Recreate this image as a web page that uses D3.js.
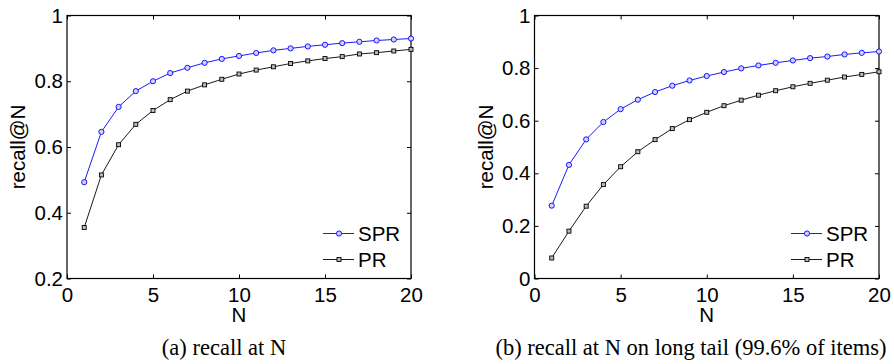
<!DOCTYPE html>
<html>
<head>
<meta charset="utf-8">
<script src="https://cdn.jsdelivr.net/npm/d3@7/dist/d3.min.js"></script>
<style>
  body { margin: 0; background: #fff; }
  svg text { font-family: "Liberation Sans", Arial, sans-serif; }
  svg text.caption { font-family: "Liberation Serif", "Times New Roman", serif; }
</style>
</head>
<body>
<svg width="894" height="364"></svg>
<script>
// N = 1..20
var topN = [1,2,3,4,5,6,7,8,9,10,11,12,13,14,15,16,17,18,19,20];

// (a) recall at N
var sprAll = [0.493,0.646,0.722,0.770,0.800,0.825,0.841,0.856,0.868,0.877,
              0.886,0.894,0.900,0.906,0.911,0.916,0.920,0.924,0.927,0.930];
var prAll  = [0.355,0.515,0.607,0.669,0.711,0.744,0.770,0.789,0.806,0.822,
              0.834,0.844,0.854,0.862,0.869,0.875,0.883,0.887,0.892,0.897];

// (b) recall at N on long tail
var sprTail = [0.277,0.432,0.529,0.595,0.644,0.680,0.709,0.733,0.753,0.770,
               0.785,0.799,0.810,0.820,0.829,0.838,0.844,0.852,0.858,0.863];
var prTail  = [0.078,0.180,0.275,0.357,0.425,0.482,0.528,0.570,0.604,0.632,
               0.657,0.678,0.697,0.714,0.729,0.742,0.754,0.766,0.776,0.786];

var xTicks = [0, 5, 10, 15, 20];
var yTicksA = [0.2, 0.4, 0.6, 0.8, 1];
var yTicksB = [0, 0.2, 0.4, 0.6, 0.8, 1];

var svg = d3.select("svg");
var fs = 20.5;

function drawPanel(p) {
	var x = d3.scaleLinear().domain([0, 20]).range([p.left, p.right]);
	var y = d3.scaleLinear().domain(p.yDomain).range([p.bottom, p.top]);
	var fmt = function(d) { return String(+d.toFixed(1)); };
	var g = svg.append("g");

	// ticks inside on all four sides, labels on bottom and left
	g.append("g")
		.attr("transform", "translate(0," + p.bottom + ")")
		.call(d3.axisBottom(x).tickValues(xTicks).tickFormat(fmt)
			.tickSizeInner(-4).tickSizeOuter(0).tickPadding(9));
	g.append("g")
		.attr("transform", "translate(" + p.left + ",0)")
		.call(d3.axisLeft(y).tickValues(p.yTicks).tickFormat(fmt)
			.tickSizeInner(-4).tickSizeOuter(0).tickPadding(4));
	g.append("g")
		.attr("transform", "translate(0," + p.top + ")")
		.call(d3.axisTop(x).tickValues(xTicks).tickFormat("")
			.tickSizeInner(-4).tickSizeOuter(0));
	g.append("g")
		.attr("transform", "translate(" + p.right + ",0)")
		.call(d3.axisRight(y).tickValues(p.yTicks).tickFormat("")
			.tickSizeInner(-4).tickSizeOuter(0));

	g.selectAll(".domain").remove();
	g.selectAll(".tick line").attr("stroke", "#000");
	g.selectAll(".tick text")
		.attr("font-size", fs)
		.attr("font-family", "Liberation Sans, Arial, sans-serif")
		.attr("fill", "#000");

	g.append("rect")
		.attr("x", p.left).attr("y", p.top)
		.attr("width", p.right - p.left).attr("height", p.bottom - p.top)
		.attr("fill", "none").attr("stroke", "#000").attr("stroke-width", 1.2);

	var line = d3.line()
		.x(function(d, i) { return x(topN[i]); })
		.y(function(d) { return y(d); });

	// PR (black squares)
	g.append("path").datum(p.pr)
		.attr("d", line).attr("fill", "none").attr("stroke", "#000").attr("stroke-width", 0.9);
	g.selectAll(".sq").data(p.pr).enter().append("rect")
		.attr("class", "sq")
		.attr("x", function(d, i) { return x(topN[i]) - 2; })
		.attr("y", function(d) { return y(d) - 2; })
		.attr("width", 4).attr("height", 4)
		.attr("fill", "#bbb").attr("stroke", "#000").attr("stroke-width", 0.9);

	// SPR (blue circles)
	g.append("path").datum(p.spr)
		.attr("d", line).attr("fill", "none").attr("stroke", "#0000ff").attr("stroke-width", 0.9);
	g.selectAll(".ci").data(p.spr).enter().append("circle")
		.attr("class", "ci")
		.attr("cx", function(d, i) { return x(topN[i]); })
		.attr("cy", function(d) { return y(d); })
		.attr("r", 2.6)
		.attr("fill", "#d0d0ff").attr("stroke", "#0000ff").attr("stroke-width", 0.9);

	// legend
	var lx = p.right - 88, ly1 = p.bottom - 45, ly2 = p.bottom - 19;
	g.append("line").attr("x1", lx).attr("x2", lx + 31).attr("y1", ly1).attr("y2", ly1)
		.attr("stroke", "#0000ff").attr("stroke-width", 0.9);
	g.append("circle").attr("cx", lx + 16).attr("cy", ly1).attr("r", 2.6)
		.attr("fill", "#d0d0ff").attr("stroke", "#0000ff").attr("stroke-width", 0.9);
	g.append("text").attr("x", lx + 35).attr("y", ly1 + 7.5)
		.attr("font-size", fs).text("SPR");
	g.append("line").attr("x1", lx).attr("x2", lx + 31).attr("y1", ly2).attr("y2", ly2)
		.attr("stroke", "#000").attr("stroke-width", 0.9);
	g.append("rect").attr("x", lx + 14).attr("y", ly2 - 2).attr("width", 4).attr("height", 4)
		.attr("fill", "#bbb").attr("stroke", "#000").attr("stroke-width", 0.9);
	g.append("text").attr("x", lx + 35).attr("y", ly2 + 7.5)
		.attr("font-size", fs).text("PR");

	// axis labels
	g.append("text")
		.attr("x", (p.left + p.right) / 2).attr("y", 322)
		.attr("text-anchor", "middle").attr("font-size", fs).text("N");
	g.append("text")
		.attr("transform", "translate(" + (p.left - 42) + "," + ((p.top + p.bottom) / 2) + ") rotate(-90)")
		.attr("text-anchor", "middle").attr("font-size", fs).text("recall@N");

	// caption
	g.append("text").attr("class", "caption")
		.attr("x", p.captionX).attr("y", 355)
		.attr("text-anchor", "middle").attr("font-size", 22.5).text(p.caption);
}

drawPanel({
	left: 67, right: 411, top: 15.5, bottom: 278.5,
	yDomain: [0.2, 1], yTicks: yTicksA,
	spr: sprAll, pr: prAll,
	caption: "(a) recall at N", captionX: 224
});

drawPanel({
	left: 534.5, right: 879, top: 15.5, bottom: 278.5,
	yDomain: [0, 1], yTicks: yTicksB,
	spr: sprTail, pr: prTail,
	caption: "(b) recall at N on long tail (99.6% of items)", captionX: 691
});
</script>
</body>
</html>
